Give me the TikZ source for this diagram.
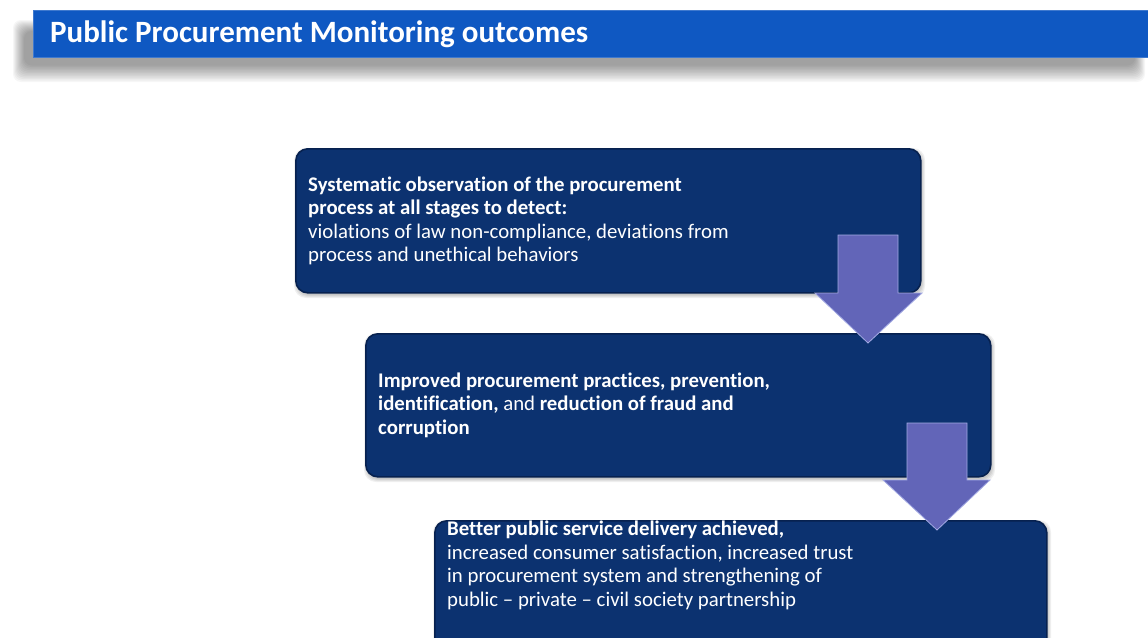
\documentclass[tikz,border=0pt]{standalone}
\usepackage{fontspec}
\setmainfont{Carlito}[Ligatures=NoCommon]
\begin{document}
\definecolor{barblue}{HTML}{0F58C2}
\definecolor{boxnavy}{HTML}{0C3270}
\definecolor{boxedge}{HTML}{07214F}
\definecolor{arrowfill}{HTML}{6265B8}
\definecolor{arrowedge}{HTML}{A3AAE3}
\begin{tikzpicture}[x=1pt,y=-1pt,
  box/.style={fill=boxnavy, draw=boxedge, line width=1.6pt, rounded corners=12pt, anchor=north west, inner sep=0pt},
  boxtext/.style={text=white, align=left, anchor=west, font=\fontsize{20.8}{23.5}\selectfont, inner sep=0pt},
  flowarrow/.style={fill=arrowfill, draw=arrowedge, line width=0.8pt}]
\useasboundingbox (0,0) rectangle (1148,637);
\fill[white] (0,0) rectangle (1148,637);

% soft shadow under the title bar
\foreach \i in {0,...,11}{
  \fill[black, opacity=0.035, rounded corners=8pt]
    (13+\i*1.0, 20+\i*1.0) rectangle (1145-\i*0.9, 82-\i*1.5);
}
% title bar
\node[fill=barblue, draw=barblue!80!white, line width=0.6pt, anchor=north west,
      minimum width=1118pt, minimum height=47pt, inner sep=0pt] (title) at (33,10) {};
\node[text=white, anchor=west, font=\fontsize{31}{34}\selectfont\bfseries, inner sep=0pt]
  (titletext) at (50,34) {Public Procurement Monitoring outcomes};

% box shadows
\foreach \x/\y/\w/\h in {295/148/625/144, 365/333/625/143, 434/520/612/130}{
  \foreach \i in {0,...,3}{
    \fill[black, opacity=0.06, rounded corners=12pt]
      (\x+2-\i, \y+3-\i) rectangle (\x+\w+2+\i, \y+\h+3+\i);
  }
}

% step boxes
\node[box, minimum width=625pt, minimum height=144pt] (b1) at (295,148) {};
\node[box, minimum width=625pt, minimum height=143pt] (b2) at (365,333) {};
\node[box, minimum width=612pt, minimum height=130pt] (b3) at (434,520) {};

\node[boxtext] (t1) at ([xshift=13pt]b1.west) {%
  \textbf{Systematic observation of the procurement}\\
  \textbf{process at all stages to detect:}\\
  violations of law non-compliance, deviations from\\
  process and unethical behaviors};
\node[boxtext] (t2) at ([xshift=13pt]b2.west) {%
  \textbf{Improved procurement practices, prevention,}\\
  \textbf{identification,} and \textbf{reduction of fraud and}\\
  \textbf{corruption}};
\node[boxtext, anchor=north west] (t3) at ([xshift=13pt,yshift=-1pt]b3.north west) {%
  \textbf{Better public service delivery achieved,}\\
  increased consumer satisfaction, increased trust\\
  in procurement system and strengthening of\\
  public -- private -- civil society partnership};

% block arrows between the steps
\draw[flowarrow] (838,235) -- (898,235) -- (898,293) -- (922,293) -- (868,343)
  -- (815,293) -- (838,293) -- cycle;
\draw[flowarrow] (907,423) -- (967,423) -- (967,480) -- (990,480) -- (937,530)
  -- (883,480) -- (907,480) -- cycle;
\end{tikzpicture}
\end{document}
